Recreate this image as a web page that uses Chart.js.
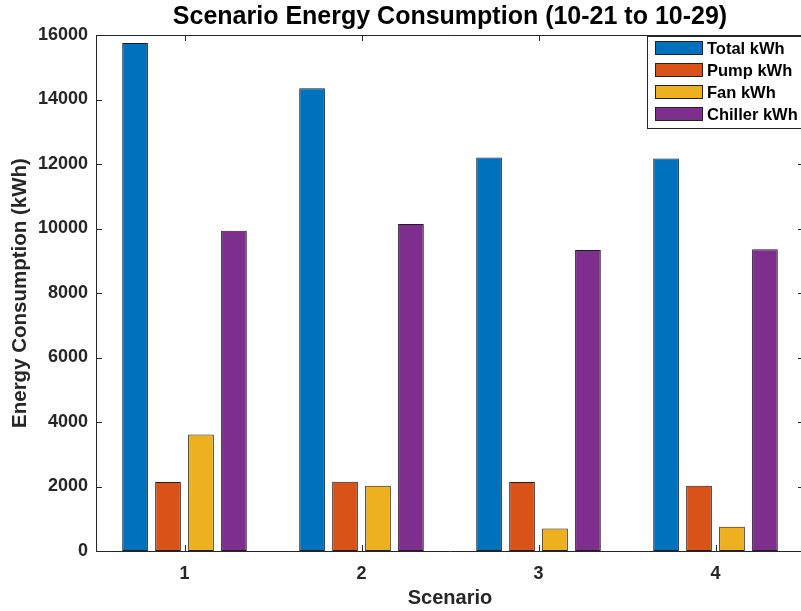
<!DOCTYPE html>
<html>
<head>
<meta charset="utf-8">
<script src="https://cdn.jsdelivr.net/npm/chart.js@4.4.0/dist/chart.umd.min.js"></script>
<style>
  html, body { margin: 0; padding: 0; background: #fff; overflow: hidden; }
  #wrap { width: 808px; height: 611px; }
</style>
</head>
<body>
<div id="wrap"><canvas id="graficoEnergia"></canvas></div>
<script>
// consumo por cenário (kWh)
const cenarios = ["1", "2", "3", "4"];
const totalKwh = [15750, 14350, 12200, 12170];
const pumpKwh = [2140, 2150, 2140, 2020];
const fanKwh = [3610, 2020, 700, 750];
const chillerKwh = [9930, 10140, 9330, 9360];

const yTicks = [0, 2000, 4000, 6000, 8000, 10000, 12000, 14000, 16000];

const series = [
  { label: "Total kWh", data: totalKwh, cor: "#0072BD" },
  { label: "Pump kWh", data: pumpKwh, cor: "#D95319" },
  { label: "Fan kWh", data: fanKwh, cor: "#EDB120" },
  { label: "Chiller kWh", data: chillerKwh, cor: "#7E2F8E" },
];

const TITULO = "Scenario Energy Consumption (10-21 to 10-29)";
const FONTE = "'Liberation Sans', Arial, sans-serif";
const COR_EIXO = "#262626";

// título centrado sobre a área do gráfico (não sobre o canvas todo)
const tituloCentrado = {
  id: "tituloCentrado",
  afterDraw(chart) {
    const { ctx, chartArea: a } = chart;
    ctx.save();
    ctx.font = `bold 25px ${FONTE}`;
    ctx.fillStyle = "#000";
    ctx.textAlign = "center";
    ctx.textBaseline = "middle";
    ctx.fillText(TITULO, (a.left + a.right) / 2, 17);
    ctx.restore();
  },
};

// caixa dos eixos com ticks para dentro (estilo matlab)
const caixaEixos = {
  id: "caixaEixos",
  afterDatasetsDraw(chart) {
    const { ctx, chartArea: a, scales } = chart;
    const tl = 6;
    ctx.save();
    ctx.strokeStyle = COR_EIXO;
    ctx.lineWidth = 1;
    ctx.beginPath();
    ctx.rect(a.left + 0.5, a.top + 0.5, a.right - a.left, a.bottom - a.top);
    yTicks.forEach((v) => {
      const y = Math.round(scales.y.getPixelForValue(v)) + 0.5;
      ctx.moveTo(a.left, y);
      ctx.lineTo(a.left + tl, y);
      ctx.moveTo(a.right, y);
      ctx.lineTo(a.right - tl, y);
    });
    cenarios.forEach((c, i) => {
      const x = Math.round(scales.x.getPixelForValue(i)) + 0.5;
      ctx.moveTo(x, a.bottom);
      ctx.lineTo(x, a.bottom - tl);
      ctx.moveTo(x, a.top);
      ctx.lineTo(x, a.top + tl);
    });
    ctx.stroke();
    ctx.restore();
  },
};

// legenda dentro do gráfico, canto superior direito
const legendaInterna = {
  id: "legendaInterna",
  afterDraw(chart) {
    const { ctx, chartArea: a } = chart;
    const x0 = 647, y0 = a.top + 1, h = 92;
    ctx.save();
    ctx.fillStyle = "#fff";
    ctx.fillRect(x0, y0, a.right - x0, h);
    ctx.strokeStyle = COR_EIXO;
    ctx.lineWidth = 1;
    ctx.strokeRect(x0 + 0.5, y0 + 0.5, a.right - x0 - 1, h);
    ctx.font = `bold 16.5px ${FONTE}`;
    ctx.textBaseline = "middle";
    chart.data.datasets.forEach((ds, i) => {
      const cy = y0 + 12 + i * 22;
      ctx.fillStyle = ds.backgroundColor;
      ctx.fillRect(655, cy - 7, 48, 14);
      ctx.strokeStyle = "#222";
      ctx.strokeRect(655.5, cy - 6.5, 47, 13);
      ctx.fillStyle = "#000";
      ctx.fillText(ds.label, 707, cy + 1);
    });
    ctx.restore();
  },
};

const ctx = document.getElementById("graficoEnergia").getContext("2d");

new Chart(ctx, {
  type: "bar",
  data: {
    labels: cenarios,
    datasets: series.map((s) => ({
      label: s.label,
      data: s.data,
      backgroundColor: s.cor,
      borderColor: "#1e1e1e",
      borderWidth: 1,
      borderSkipped: false,
      categoryPercentage: 0.745,
      barPercentage: 0.78,
    })),
  },
  options: {
    responsive: true,
    maintainAspectRatio: false,
    animation: false,
    // o canvas passa um pouco da janela, então o eixo direito fica cortado
    layout: { padding: { left: 0, right: 4, top: 35, bottom: 0 } },
    plugins: {
      legend: { display: false },
      tooltip: { enabled: false },
      title: { display: false },
    },
    scales: {
      x: {
        grid: { display: false, drawTicks: false },
        border: { display: false },
        ticks: {
          color: COR_EIXO,
          padding: 12,
          font: { family: FONTE, size: 18, weight: "bold" },
        },
        title: {
          display: true,
          text: "Scenario",
          color: COR_EIXO,
          font: { family: FONTE, size: 20, weight: "bold", lineHeight: 1.2 },
          padding: { top: 0, bottom: 1 },
        },
        afterFit: (s) => { s.height = 60; },
      },
      y: {
        min: 0,
        max: 16000,
        grid: { display: false, drawTicks: false },
        border: { display: false },
        afterBuildTicks: (s) => { s.ticks = yTicks.map((v) => ({ value: v })); },
        ticks: {
          color: COR_EIXO,
          padding: 8,
          font: { family: FONTE, size: 18, weight: "bold" },
          callback: (v) => String(v),
        },
        title: {
          display: true,
          text: "Energy Consumption (kWh)",
          color: COR_EIXO,
          font: { family: FONTE, size: 20.5, weight: "bold", lineHeight: 1.2 },
          padding: { top: 8, bottom: 0 },
        },
        afterFit: (s) => { s.width = 96; },
      },
    },
  },
  plugins: [caixaEixos, legendaInterna, tituloCentrado],
});
</script>
</body>
</html>
